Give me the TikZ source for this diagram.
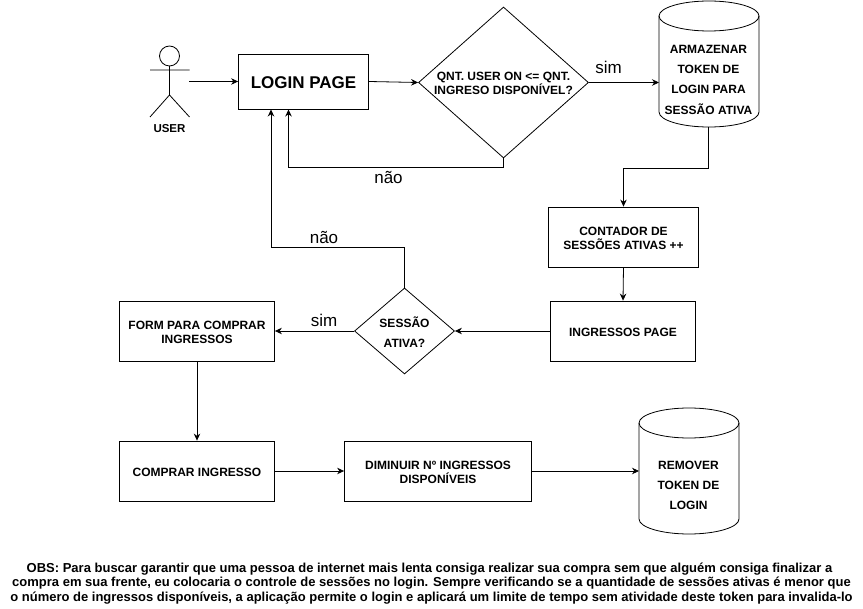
\documentclass[tikz,border=0pt]{standalone}
\usepackage{fontspec}
\setmainfont{Liberation Sans}
\usetikzlibrary{shapes.geometric,arrows.meta}
\newcommand{\dn}[1]{\raisebox{-1pt}[\height][\depth]{#1}}
\tikzset{
 box/.style={draw,line width=0.8pt,fill=white,align=center,font=\bfseries\fontsize{12}{14}\selectfont,inner sep=0pt},
 dia/.style={draw,line width=0.8pt,diamond,aspect=1,align=center,font=\bfseries\fontsize{12}{14.5}\selectfont,inner sep=0pt},
 conn/.style={line width=0.8pt,-{Stealth[length=7pt,width=6.5pt]}},
 lbl/.style={font=\fontsize{17}{19}\selectfont,inner sep=0pt},
 cyltxt/.style={align=center,font=\bfseries\fontsize{12}{14}\selectfont,inner sep=0pt},
}
\newcommand{\cyl}[4]{% x left, x right, y top, y bottom (pixels)
 \draw[line width=0.8pt,fill=white] (#1,-#3-15) arc[start angle=180,end angle=0,x radius={(#2-#1)/2},y radius=15] -- (#2,-#4+15) arc[start angle=360,end angle=180,x radius={(#2-#1)/2},y radius=15] -- cycle;
 \draw[line width=0.8pt] (#1,-#3-15) arc[start angle=180,end angle=360,x radius={(#2-#1)/2},y radius=15];
}
\begin{document}
\begin{tikzpicture}[x=1pt,y=1pt]
\useasboundingbox (0,0) rectangle (863,-609);
% user
\draw[line width=0.8pt] (169.5,-56) circle[radius=10];
\draw[line width=0.8pt] (169.5,-66) -- (169.5,-95) (150,-70) -- (189.5,-70) (169.5,-95) -- (150,-117) (169.5,-95) -- (189.5,-117);
\node[font=\bfseries\fontsize{11.5}{13}\selectfont,inner sep=0pt] (user) at (169.5,-129) {USER};
\coordinate (ua) at (189,-81.5);
% boxes
\node[box,minimum width=130pt,minimum height=55pt,font=\bfseries\fontsize{17}{19}\selectfont] (login) at (303.5,-81.5) {\dn{LOGIN PAGE}};
\node[dia,minimum width=170pt,minimum height=151pt,shape aspect=1.126] (d1) at (503.5,-82.5) {\dn{QNT. USER ON <= QNT.}\\\dn{INGRESO DISPONÍVEL?}};
\cyl{659}{759}{1}{127}
\node[cyltxt] (arm) at (708.5,-49.5) {ARMAZENAR};
\node[cyltxt] (arm2) at (708.5,-69.5) {TOKEN DE};
\node[cyltxt] (arm3) at (708.5,-89.5) {LOGIN PARA};
\node[cyltxt] (arm4) at (708.5,-109.5) {SESSÃO ATIVA};
\coordinate (armb) at (708.5,-127);
\coordinate (armw) at (659,-82.5);
\node[box,minimum width=150pt,minimum height=60pt] (cont) at (623.5,-237) {\dn{CONTADOR DE}\\\dn{SESSÕES ATIVAS ++}};
\node[box,minimum width=145pt,minimum height=60pt] (ing) at (623,-331) {\dn{INGRESSOS PAGE}};
\node[dia,minimum width=100pt,minimum height=86pt,shape aspect=1.163,font=\bfseries\fontsize{12}{20}\selectfont] (d2) at (404.5,-331) {\dn{SESSÃO}\\\dn{ATIVA?}};
\node[box,minimum width=155pt,minimum height=60pt] (form) at (197,-331) {\dn{FORM PARA COMPRAR}\\\dn{INGRESSOS}};
\node[box,minimum width=155pt,minimum height=60pt] (comp) at (197,-471) {\dn{COMPRAR INGRESSO}};
\node[box,minimum width=187pt,minimum height=60pt] (dim) at (438,-471) {\dn{DIMINUIR Nº INGRESSOS}\\\dn{DISPONÍVEIS}};
\cyl{639}{739}{408}{534}
\node[cyltxt] (rem) at (688.5,-465) {REMOVER};
\node[cyltxt] (rem2) at (688.5,-485) {TOKEN DE};
\node[cyltxt] (rem3) at (688.5,-505) {LOGIN};
\coordinate (remw) at (639,-471);
% connectors
\draw[conn] (ua) -- (login.west);
\draw[conn] (login.east) -- (d1.west);
\draw[conn] (d1.east) -- (armw);
\draw[conn] (d1.south) |- (288.5,-167) -- (288.5,-109.5);
\draw[conn] (armb) |- (623.5,-168) -- (cont.north);
\draw[conn] (cont.south) -- (ing.north);
\draw[conn] (ing.west) -- (d2.east);
\draw[conn] (d2.west) -- (form.east);
\draw[conn] (d2.north) |- (271,-247) -- (271,-109.5);
\draw[conn] (form.south) -- (comp.north);
\draw[conn] (comp.east) -- (dim.west);
\draw[conn] (dim.east) -- (remw);
% labels
\node[lbl] (s1) at (608.5,-67.5) {sim};
\node[lbl] (n1) at (388.5,-177) {não};
\node[lbl] (n2) at (324,-237.5) {não};
\node[lbl] (s2) at (324,-320) {sim};
\node[align=center,font=\bfseries\fontsize{13}{14.5}\selectfont,inner sep=0pt] (obs) at (431.5,-583.5) {OBS: Para buscar garantir que uma pessoa de internet mais lenta consiga realizar sua compra sem que alguém consiga finalizar a\hspace*{4pt}\\compra em sua frente, eu colocaria o controle de sessões no login. Sempre verificando se a quantidade de sessões ativas é menor que\\o número de ingressos disponíveis, a aplicação permite o login e aplicará um limite de tempo sem atividade deste token para invalida-lo};
\end{tikzpicture}
\end{document}
